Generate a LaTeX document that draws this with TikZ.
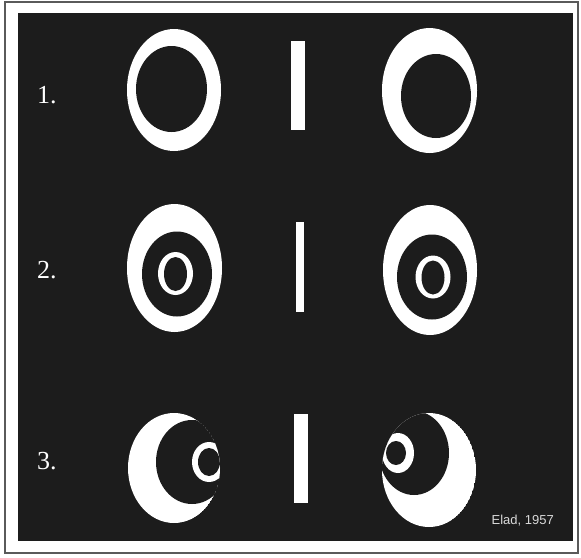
\documentclass[tikz,border=0pt]{standalone}
\usepackage{fontspec}
\setmainfont{Liberation Serif}
\newfontfamily\credfont{Liberation Sans}
\definecolor{bg}{RGB}{28,28,28}
\definecolor{frame}{RGB}{90,90,90}
\tikzset{
  lbl/.style={anchor=west, text=white, font=\fontsize{26}{26}\selectfont, inner sep=0pt},
  cred/.style={anchor=east, text=white!85!black, font=\credfont\fontsize{13}{13}\selectfont, inner sep=0pt},
  barfill/.style={fill=white}
}
\begin{document}
\begin{tikzpicture}[x=1pt,y=-1pt]
\useasboundingbox (0,0) rectangle (581,557);
\draw[frame, line width=1.3pt] (5,2) rectangle (578,553);
\fill[bg] (18,13) rectangle (573,541);

% Row 1
\fill[white] (174,90) ellipse [x radius=47pt, y radius=61pt];
\fill[bg] (171.5,89) ellipse [x radius=35.5pt, y radius=43pt];
\fill[barfill] (291,41) rectangle (305,130);
\fill[white] (429.5,90.5) ellipse [x radius=47.5pt, y radius=62.5pt];
\fill[bg] (436,96) ellipse [x radius=35pt, y radius=42pt];

% Row 2
\fill[white] (174.5,268) ellipse [x radius=47.5pt, y radius=64pt];
\fill[bg] (177,274) ellipse [x radius=35pt, y radius=42.5pt];
\fill[white] (175.5,273.5) ellipse [x radius=17.5pt, y radius=21.5pt];
\fill[bg] (175.5,274) ellipse [x radius=11.5pt, y radius=17pt];
\fill[barfill] (296,222) rectangle (304,312);
\fill[white] (430,270) ellipse [x radius=47pt, y radius=65pt];
\fill[bg] (432,277) ellipse [x radius=35pt, y radius=42.5pt];
\fill[white] (433,277) ellipse [x radius=17.5pt, y radius=21.5pt];
\fill[bg] (433,277.5) ellipse [x radius=11.5pt, y radius=17pt];

% Row 3
\begin{scope}
  \clip (174,468) ellipse [x radius=46pt, y radius=55pt];
  \fill[white] (174,468) ellipse [x radius=46pt, y radius=55pt];
  \fill[bg] (192,462) ellipse [x radius=36pt, y radius=42pt];
  \fill[white] (209,462) ellipse [x radius=17pt, y radius=20pt];
  \fill[bg] (209,462) ellipse [x radius=11pt, y radius=14pt];
\end{scope}
\fill[barfill] (294,414) rectangle (308,503);
\begin{scope}
  \clip (429,470) ellipse [x radius=47pt, y radius=57pt];
  \fill[white] (429,470) ellipse [x radius=47pt, y radius=57pt];
  \fill[bg] (414,453) ellipse [x radius=35pt, y radius=42pt];
  \fill[white] (398,453) ellipse [x radius=16pt, y radius=20pt];
  \fill[bg] (396,453) ellipse [x radius=10pt, y radius=12pt];
\end{scope}

% Labels
\node[lbl] (l1) at (37,95) {1.};
\node[lbl] (l2) at (37,270) {2.};
\node[lbl] (l3) at (37,461) {3.};
\node[cred] (cr) at (554,521) {Elad, 1957};
\end{tikzpicture}
\end{document}
